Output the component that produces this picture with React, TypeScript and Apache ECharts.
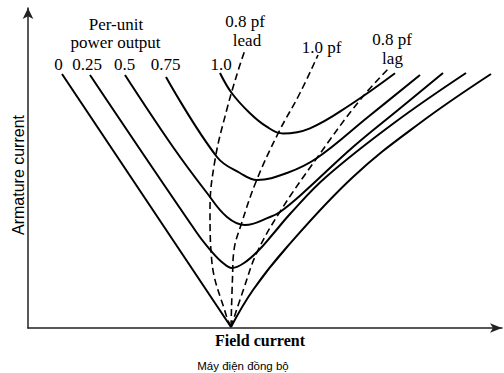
import React, { useEffect, useRef } from "react";
import * as echarts from "echarts";

// Coordinates: field current (x) and armature current (y), arbitrary units
const p0Left: number[][] = [[34, 254], [203, 1]];
const p0Right: number[][] = [[203, 1], [225, 38], [259, 81], [325, 151], [392, 205], [463, 254]];
const p025: number[][] = [[62, 253], [169, 95], [184, 76], [195, 65], [204, 60], [216, 65], [230, 77], [245, 94], [262, 114], [298, 151], [366, 205], [438, 255]];
const p05: number[][] = [[97, 253], [145, 181], [179, 135], [199, 111], [217, 103], [242, 111], [252, 116], [275, 135], [325, 181], [370, 218], [415, 255]];
const p075: number[][] = [[138, 251], [189, 171], [212, 155], [229, 148], [259, 155], [289, 170], [340, 211], [392, 253]];
const p10: number[][] = [[192, 255], [203.7, 235], [222, 214.7], [238.7, 201.3], [255, 194.5], [282, 199.7], [322, 223], [367, 254.7]];
const pfLead: number[][] = [[203, 1], [198.7, 11], [183.7, 68], [182, 118], [187, 168], [198.7, 218], [210.3, 258], [217, 278]];
const pfUnity: number[][] = [[203, 1], [204.5, 50], [206, 78], [213, 103], [228.7, 148], [250.3, 195], [272, 235], [290, 273]];
const pfLag: number[][] = [[203, 1], [216, 40], [228.7, 75], [252, 116.3], [288.7, 169.7], [332, 228], [362, 261]];

const powerLabels = ["0", "0.25", "0.5", "0.75", "1.0"];
const powerLabelX = [58.5, 87, 124.5, 165.5, 221];

export default function App() {
  const ref = useRef<HTMLDivElement>(null);
  useEffect(() => {
    if (!ref.current) return;
    const chart = echarts.init(ref.current, null, { renderer: "svg" });
    const solid = (data: number[][], smooth: number | boolean) => ({
      type: "line",
      data,
      showSymbol: false,
      smooth,
      lineStyle: { color: "#000", width: 2 },
      silent: true,
    });
    const dashed = (data: number[][]) => ({
      type: "line",
      data,
      showSymbol: false,
      smooth: 0.4,
      lineStyle: { color: "#000", width: 1.6, type: [7, 4] },
      silent: true,
    });
    const serif = "'Liberation Serif', 'Times New Roman', serif";
    const txt = (text: string, x: number, y: number, size: number, extra: any = {}) => ({
      type: "text",
      x,
      y,
      style: {
        text,
        fontSize: size,
        fontFamily: serif,
        fill: "#000",
        align: "center",
        verticalAlign: "middle",
        ...extra,
      },
    });
    const graphics: any[] = [
      txt("Per-unit", 116, 24, 17),
      txt("power output", 115.5, 42, 17),
      ...powerLabels.map((l, i) => txt(l, powerLabelX[i], 64, 17)),
      txt("0.8 pf", 245, 21, 17),
      txt("lead", 247, 40, 17),
      txt("1.0 pf", 321.5, 47, 17),
      txt("0.8 pf", 392, 39, 17),
      txt("lag", 392.5, 58, 17),
      txt("Field current", 260, 340, 16, { fontWeight: "bold" }),
      {
        type: "text",
        x: 18,
        y: 175,
        rotation: Math.PI / 2,
        style: {
          text: "Armature current",
          fontSize: 16,
          fontFamily: "'Liberation Sans Narrow', 'Liberation Sans', Arial, sans-serif",
          fill: "#000",
          align: "center",
          verticalAlign: "middle",
        },
      },
      {
        type: "text",
        x: 243,
        y: 366,
        style: {
          text: "Máy điện đồng bộ",
          fontSize: 11.5,
          fontFamily: "'Liberation Sans', Arial, sans-serif",
          fill: "#000",
          align: "center",
          verticalAlign: "middle",
        },
      },
    ];
    chart.setOption({
      animation: false,
      grid: { left: 28, top: 8, width: 474, height: 320 },
      xAxis: {
        type: "value",
        min: 0,
        max: 474,
        axisLine: { show: true, symbol: ["none", "arrow"], symbolSize: [7, 12], lineStyle: { color: "#222", width: 1.5 } },
        axisTick: { show: false },
        axisLabel: { show: false },
        splitLine: { show: false },
      },
      yAxis: {
        type: "value",
        min: 0,
        max: 320,
        axisLine: { show: true, symbol: ["none", "arrow"], symbolSize: [8, 11], lineStyle: { color: "#222", width: 1.5 } },
        axisTick: { show: false },
        axisLabel: { show: false },
        splitLine: { show: false },
      },
      series: [
        solid(p0Left, false),
        solid(p0Right, 0.4),
        solid(p025, 0.4),
        solid(p05, 0.4),
        solid(p075, 0.4),
        solid(p10, 0.4),
        dashed(pfLead),
        dashed(pfUnity),
        dashed(pfLag),
      ],
      graphic: graphics,
    });
    return () => chart.dispose();
  }, []);
  return (
    <div
      ref={ref}
      style={{ position: "fixed", left: 0, top: 0, width: 504, height: 373, background: "#fff" }}
    />
  );
}
